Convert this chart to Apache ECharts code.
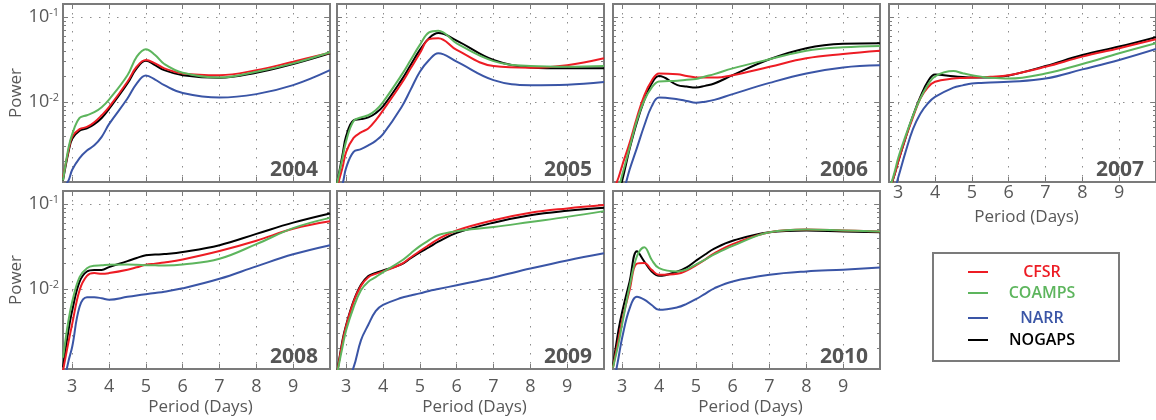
<!DOCTYPE html>
<html>
<head>
<meta charset="utf-8">
<script src="https://cdn.jsdelivr.net/npm/echarts@6/dist/echarts.min.js"></script>
<style>
html,body{margin:0;padding:0;background:#fff;}
#c{width:1156px;height:420px;}
</style>
</head>
<body>
<div id="c"></div>
<script>
// ---------------- data ----------------
const periods = [2.75, 2.9, 3.0, 3.2, 3.4, 3.6, 3.8, 4.0, 4.5, 4.75, 5.0, 5.25, 5.5, 6.0, 7.0, 8.0, 9.0, 10.0];
const years = ['2004', '2005', '2006', '2007', '2008', '2009', '2010'];
const models = ['CFSR', 'COAMPS', 'NARR', 'NOGAPS'];
const xTicks = [3, 4, 5, 6, 7, 8, 9];
const yMajor = [0.01, 0.1];
const yMinor = [0.002, 0.003, 0.004, 0.005, 0.006, 0.007, 0.008, 0.009, 0.02, 0.03, 0.04, 0.05, 0.06, 0.07, 0.08, 0.09];

const cfsr2004   = [0.0013, 0.0027, 0.0039, 0.0048, 0.0051, 0.0058, 0.0070, 0.0087, 0.0173, 0.026, 0.0312, 0.0285, 0.0249, 0.0217, 0.0207, 0.0237, 0.0298, 0.038];
const coamps2004 = [0.0012, 0.0029, 0.0042, 0.0065, 0.0070, 0.0076, 0.0087, 0.0107, 0.0207, 0.034, 0.0418, 0.0357, 0.028, 0.0221, 0.0194, 0.0227, 0.0285, 0.0385];
const narr2004   = [0.00098, 0.0012, 0.0016, 0.0022, 0.0027, 0.0031, 0.0039, 0.0055, 0.0110, 0.0165, 0.0205, 0.0184, 0.0158, 0.0128, 0.0113, 0.0124, 0.0158, 0.0237];
const nogaps2004 = [0.0012, 0.0026, 0.0037, 0.0046, 0.0049, 0.0055, 0.0065, 0.0083, 0.0165, 0.0249, 0.0306, 0.0272, 0.0237, 0.0207, 0.0193, 0.0221, 0.028, 0.0374];

const cfsr2005   = [0.0010, 0.0017, 0.0026, 0.0038, 0.0044, 0.0049, 0.0061, 0.0080, 0.0165, 0.0249, 0.0374, 0.0548, 0.0564, 0.041, 0.0265, 0.0253, 0.0271, 0.0327];
const coamps2005 = [0.0011, 0.0022, 0.0035, 0.0060, 0.0066, 0.0070, 0.0080, 0.0100, 0.0207, 0.0312, 0.047, 0.0658, 0.069, 0.049, 0.0303, 0.0265, 0.026, 0.0265];
const narr2005   = [0.0008, 0.0011, 0.0017, 0.0026, 0.0028, 0.0031, 0.0035, 0.0042, 0.0087, 0.014, 0.0227, 0.0312, 0.0374, 0.0298, 0.0181, 0.0158, 0.016, 0.0172];
const nogaps2005 = [0.0011, 0.0024, 0.0040, 0.0061, 0.0063, 0.0066, 0.0074, 0.0089, 0.0181, 0.0272, 0.041, 0.0564, 0.0646, 0.0528, 0.0312, 0.0255, 0.0249, 0.0249];

const cfsr2006   = [0.0009, 0.0013, 0.0018, 0.0033, 0.0066, 0.012, 0.0178, 0.0217, 0.0212, 0.0203, 0.0195, 0.0194, 0.0194, 0.0207, 0.026, 0.0327, 0.0367, 0.040];
const coamps2006 = [0.0008, 0.0010, 0.0014, 0.0029, 0.0061, 0.0105, 0.0148, 0.0175, 0.0178, 0.0183, 0.0187, 0.0200, 0.0213, 0.0249, 0.0318, 0.0402, 0.044, 0.0457];
const narr2006   = [0.0006, 0.0007, 0.0008, 0.0016, 0.0029, 0.0053, 0.0089, 0.0113, 0.0108, 0.0103, 0.0098, 0.0101, 0.0106, 0.0124, 0.0168, 0.0217, 0.0255, 0.027];
const nogaps2006 = [0.0007, 0.0009, 0.0012, 0.0028, 0.0058, 0.0105, 0.0165, 0.0202, 0.0158, 0.0152, 0.0148, 0.0155, 0.0165, 0.0207, 0.0318, 0.0429, 0.0483, 0.0491];

const cfsr2007   = [0.0009, 0.0014, 0.0020, 0.0038, 0.0066, 0.0110, 0.0148, 0.0173, 0.0189, 0.0192, 0.0194, 0.0196, 0.0198, 0.0207, 0.026, 0.0342, 0.043, 0.0549];
const coamps2007 = [0.0009, 0.0015, 0.0022, 0.0040, 0.0069, 0.0110, 0.0158, 0.0201, 0.0231, 0.0218, 0.0207, 0.0199, 0.0193, 0.0189, 0.0217, 0.028, 0.0374, 0.0491];
const narr2007   = [0.0008, 0.00095, 0.0013, 0.0026, 0.0048, 0.0073, 0.0096, 0.0115, 0.0148, 0.0157, 0.0165, 0.0168, 0.0170, 0.0173, 0.0189, 0.0242, 0.0312, 0.042];
const nogaps2007 = [0.0009, 0.0014, 0.0020, 0.0038, 0.0069, 0.0115, 0.0173, 0.0211, 0.0201, 0.0197, 0.0194, 0.0194, 0.0194, 0.0205, 0.0265, 0.0357, 0.0449, 0.058];

const cfsr2008   = [0.0011, 0.0024, 0.0039, 0.0097, 0.0143, 0.0154, 0.0151, 0.0154, 0.0169, 0.018, 0.0193, 0.0199, 0.0205, 0.0223, 0.028, 0.037, 0.0511, 0.0625];
const coamps2008 = [0.00156, 0.0043, 0.0071, 0.0138, 0.0176, 0.0188, 0.0190, 0.0193, 0.0194, 0.0193, 0.0191, 0.0190, 0.0189, 0.0194, 0.0227, 0.0337, 0.052, 0.0686];
const narr2008   = [0.0007, 0.00143, 0.0021, 0.0062, 0.0080, 0.0080, 0.0078, 0.0075, 0.0081, 0.0084, 0.0087, 0.0090, 0.0093, 0.0102, 0.0132, 0.0185, 0.0256, 0.0328];
const nogaps2008 = [0.0012, 0.0033, 0.0056, 0.0122, 0.0161, 0.0168, 0.0168, 0.0181, 0.0213, 0.0232, 0.0249, 0.0254, 0.0258, 0.0273, 0.0328, 0.0445, 0.0603, 0.0773];

const cfsr2009   = [0.0010, 0.0024, 0.0037, 0.0071, 0.0109, 0.0138, 0.0151, 0.0161, 0.0197, 0.0235, 0.028, 0.033, 0.0387, 0.0488, 0.0643, 0.0787, 0.0887, 0.0973];
const coamps2009 = [0.0010, 0.0021, 0.0033, 0.0061, 0.0097, 0.0122, 0.0138, 0.0158, 0.0215, 0.0262, 0.032, 0.0375, 0.0432, 0.0479, 0.0535, 0.0614, 0.0705, 0.0824];
const narr2009   = [0.0006, 0.0007, 0.0008, 0.0012, 0.0025, 0.0038, 0.0055, 0.0065, 0.0079, 0.0084, 0.0089, 0.0095, 0.0100, 0.0111, 0.0137, 0.0174, 0.0217, 0.0263];
const nogaps2009 = [0.0010, 0.0025, 0.0038, 0.0072, 0.0112, 0.0142, 0.0155, 0.0165, 0.0195, 0.023, 0.027, 0.031, 0.036, 0.0457, 0.0603, 0.0738, 0.0832, 0.0904];

const cfsr2010   = [0.0012, 0.0026, 0.0043, 0.0097, 0.0199, 0.0202, 0.0168, 0.0147, 0.0151, 0.0165, 0.019, 0.0222, 0.0263, 0.0337, 0.0466, 0.0501, 0.0488, 0.0474];
const coamps2010 = [0.0012, 0.0023, 0.0039, 0.0107, 0.0243, 0.031, 0.0221, 0.0176, 0.0161, 0.017, 0.0194, 0.0222, 0.0256, 0.0322, 0.0466, 0.0501, 0.0488, 0.0474];
const narr2010   = [0.0007, 0.00156, 0.0027, 0.0059, 0.0081, 0.0075, 0.0065, 0.0057, 0.0061, 0.0067, 0.0076, 0.0088, 0.0102, 0.0123, 0.0147, 0.0161, 0.0169, 0.0179];
const nogaps2010 = [0.00124, 0.0033, 0.0054, 0.0122, 0.0278, 0.0211, 0.0161, 0.0143, 0.0161, 0.018, 0.0215, 0.0255, 0.0299, 0.037, 0.0466, 0.0488, 0.0474, 0.0466];

// ---------------- assembly ----------------
const panelData = [
  [cfsr2004, coamps2004, narr2004, nogaps2004],
  [cfsr2005, coamps2005, narr2005, nogaps2005],
  [cfsr2006, coamps2006, narr2006, nogaps2006],
  [cfsr2007, coamps2007, narr2007, nogaps2007],
  [cfsr2008, coamps2008, narr2008, nogaps2008],
  [cfsr2009, coamps2009, narr2009, nogaps2009],
  [cfsr2010, coamps2010, narr2010, nogaps2010]
];
const colors = ['#ED1C24', '#5DB55D', '#3A55A6', '#000000'];
const drawOrder = [3, 2, 0, 1]; // NOGAPS, NARR, CFSR, COAMPS (last on top)

const FONT = '"Open Sans", "DejaVu Sans", sans-serif';
const TXT = '#585858';
const BORDER = '#7b7b7b';
const XMIN = 2.75, XMAX = 10, YMIN = 0.00115, YMAX = 0.142;
const W = 267, H = 178;
const pos = [[63, 4], [337, 4], [613, 4], [889, 4], [63, 191], [337, 191], [613, 191]];
const showXLabels = [false, false, false, true, true, true, true];
const showYLabels = [true, false, false, false, true, false, false];

const grids = [], xAxes = [], yAxes = [], series = [], graphics = [];
const dotted = { type: [1.5, 7.5], color: '#8c8c8c', width: 1 };

function yFmt(v) {
  const l = Math.log10(v);
  const e = Math.round(l);
  if (Math.abs(l - e) > 1e-6) return '';
  return '{b|10}{s|' + e + '}';
}

years.forEach((yr, i) => {
  const [left, top] = pos[i];
  grids.push({ left: left, top: top, width: W, height: H, show: true,
    borderColor: BORDER, borderWidth: 2, backgroundColor: '#fff' });
  const xl = showXLabels[i];
  const row1 = top < 100;
  // bottom x
  xAxes.push({ gridIndex: i, type: 'value', min: XMIN, max: XMAX, minInterval: 1, maxInterval: 1,
    position: 'bottom', axisLine: { show: false },
    axisTick: { show: true, inside: true, length: 5, customValues: xTicks, lineStyle: { color: BORDER, width: 1 } },
    axisLabel: { show: xl, customValues: xTicks, margin: row1 ? 2 : 9, fontSize: 18, color: TXT, fontFamily: FONT },
    splitLine: { show: true, lineStyle: dotted },
    name: xl ? 'Period (Days)' : '', nameLocation: 'middle', nameGap: row1 ? 27 : 30,
    nameTextStyle: { fontSize: 17, color: TXT, fontFamily: FONT, padding: [0, 0, 0, 8] } });
  // top x
  xAxes.push({ gridIndex: i, type: 'value', min: XMIN, max: XMAX, minInterval: 1, maxInterval: 1,
    position: 'top', axisLine: { show: false },
    axisTick: { show: true, inside: true, length: 5, customValues: xTicks, lineStyle: { color: BORDER, width: 1 } },
    axisLabel: { show: false }, splitLine: { show: false } });
  const yBase = { gridIndex: i, type: 'log', logBase: 10, min: YMIN, max: YMAX, axisLine: { show: false } };
  // left major
  yAxes.push(Object.assign({}, yBase, { position: 'left',
    axisTick: { show: true, inside: true, length: 5, customValues: yMajor, lineStyle: { color: BORDER, width: 1 } },
    axisLabel: { show: showYLabels[i], customValues: yMajor, margin: 4, formatter: yFmt, color: TXT,
      rich: { b: { fontSize: 18, color: TXT, fontFamily: FONT, lineHeight: 20 },
              s: { fontSize: 11, color: TXT, fontFamily: FONT, verticalAlign: 'top', lineHeight: 12 } } },
    splitLine: { show: true, lineStyle: dotted },
    name: showYLabels[i] ? 'Power' : '', nameLocation: 'middle', nameGap: 38,
    nameTextStyle: { fontSize: 17, color: TXT, fontFamily: FONT } }));
  // left minor
  yAxes.push(Object.assign({}, yBase, { position: 'left',
    axisTick: { show: true, inside: true, length: 3, customValues: yMinor, lineStyle: { color: BORDER, width: 1 } },
    axisLabel: { show: false }, splitLine: { show: false } }));
  // right major
  yAxes.push(Object.assign({}, yBase, { position: 'right',
    axisTick: { show: true, inside: true, length: 5, customValues: yMajor, lineStyle: { color: BORDER, width: 1 } },
    axisLabel: { show: false }, splitLine: { show: false } }));
  // right minor
  yAxes.push(Object.assign({}, yBase, { position: 'right',
    axisTick: { show: true, inside: true, length: 3, customValues: yMinor, lineStyle: { color: BORDER, width: 1 } },
    axisLabel: { show: false }, splitLine: { show: false } }));

  drawOrder.forEach(m => {
    const vals = panelData[i][m];
    series.push({ type: 'line', name: models[m], xAxisIndex: i * 2, yAxisIndex: i * 4,
      data: periods.map((x, k) => [x, vals[k]]), smooth: 0.4, showSymbol: false, symbol: 'none',
      clip: true, silent: true, lineStyle: { color: colors[m], width: 2 }, itemStyle: { color: colors[m] }, z: 3 });
  });

  graphics.push({ type: 'text', x: left + W - 12, y: top + H - 1, z: 100,
    style: { text: yr, font: 'bold 21px ' + FONT, fill: '#555', align: 'right', verticalAlign: 'bottom' } });
});

// legend box
const lg = { x: 933, y: 253, w: 186, h: 108 };
const legendY = [272, 293, 318, 340];
graphics.push({ type: 'rect', shape: { x: lg.x, y: lg.y, width: lg.w, height: lg.h }, z: 50,
  style: { fill: '#fff', stroke: BORDER, lineWidth: 2 } });
models.forEach((m, k) => {
  graphics.push({ type: 'line', shape: { x1: 968, y1: legendY[k], x2: 988, y2: legendY[k] }, z: 51,
    style: { stroke: colors[k], lineWidth: 2 } });
  graphics.push({ type: 'text', x: 1042, y: legendY[k], z: 51,
    style: { text: m, font: '600 16px ' + FONT, fill: colors[k], align: 'center', verticalAlign: 'middle' } });
});

const chart = echarts.init(document.getElementById('c'), null, { renderer: 'canvas' });
chart.setOption({
  animation: false,
  backgroundColor: '#fff',
  grid: grids, xAxis: xAxes, yAxis: yAxes, series: series, graphic: graphics
});
</script>
</body>
</html>
